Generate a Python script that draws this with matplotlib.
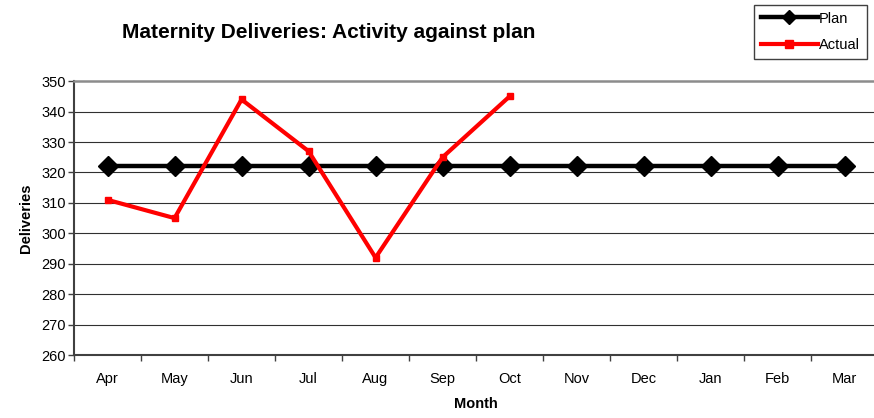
import matplotlib
matplotlib.use("Agg")
import matplotlib.pyplot as plt

plt.rcParams["font.family"] = ["Liberation Sans", "DejaVu Sans"]

# ── Data ──────────────────────────────────────────────────────────────────────
months = ["Apr", "May", "Jun", "Jul", "Aug", "Sep",
          "Oct", "Nov", "Dec", "Jan", "Feb", "Mar"]
plan = [322] * 12
actual = [311, 305, 344, 327, 292, 325, 345]
y_ticks = [260, 270, 280, 290, 300, 310, 320, 330, 340, 350]

# ── Figure ────────────────────────────────────────────────────────────────────
fig = plt.figure(figsize=(8.74, 4.18), dpi=100)
ax = fig.add_axes([0.0847, 0.1507, 0.92, 0.655])

x = list(range(len(months)))
ax.plot(x, plan, color="black", lw=3.2, marker="D", markersize=10.5,
        label="Plan", zorder=3)
ax.plot(x[:len(actual)], actual, color="#ff0000", lw=3.0, marker="s",
        markersize=5, label="Actual", zorder=4)

ax.set_xlim(-0.5, len(months) - 0.5)
ax.set_ylim(260, 350)
ax.set_yticks(y_ticks)
ax.set_xticks(x)
ax.set_xticklabels(months, fontsize=10.5)
ax.set_xticks([i - 0.5 for i in range(len(months) + 1)], minor=True)
ax.tick_params(axis="x", which="major", length=0, pad=12)
ax.tick_params(axis="x", which="minor", length=4, width=1, color="#404040")
ax.tick_params(axis="y", length=4, width=1, color="#404040", labelsize=10.5, pad=2)

for v in y_ticks[1:-1]:
    ax.axhline(v, color="#303030", lw=0.8, zorder=1)

for side in ("left", "bottom"):
    ax.spines[side].set_color("#404040")
    ax.spines[side].set_linewidth(1.5)
ax.spines["top"].set_color("#8c8c8c")
ax.spines["top"].set_linewidth(1.8)
ax.spines["right"].set_visible(False)

ax.set_xlabel("Month", fontsize=10.5, fontweight="bold", labelpad=8)
ax.set_ylabel("Deliveries", fontsize=10.5, fontweight="bold", labelpad=6)

fig.text(0.376, 0.923, "Maternity Deliveries: Activity against plan",
         ha="center", va="center", fontsize=15, fontweight="bold")

leg = fig.legend(loc="upper right", bbox_to_anchor=(0.995, 0.995),
                 fontsize=10.5, numpoints=1, handlelength=3.9,
                 handletextpad=0.1, borderpad=0.45, labelspacing=0.85,
                 borderaxespad=0.2,
                 fancybox=False, framealpha=1, edgecolor="#404040")
leg.get_frame().set_linewidth(1.0)
# smaller markers in the legend key, as in the original
leg.legend_handles[0].set_markersize(7)
leg.legend_handles[1].set_markersize(6)

fig.savefig("out.png", dpi=100)
